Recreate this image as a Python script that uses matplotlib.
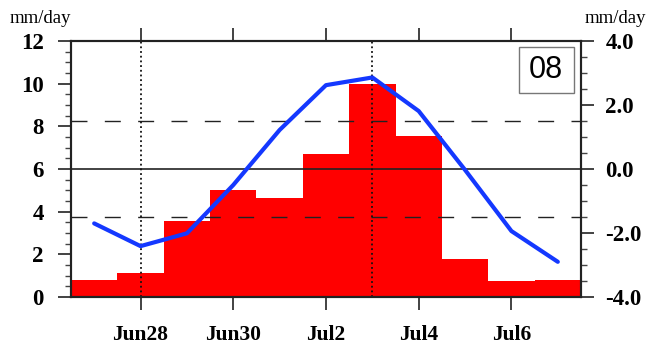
import matplotlib
matplotlib.use('Agg')
import matplotlib.pyplot as plt
from matplotlib.patches import Rectangle
from matplotlib.ticker import MultipleLocator, FormatStrFormatter

# daily series, Jun27 .. Jul7
days = ['Jun27', 'Jun28', 'Jun29', 'Jun30', 'Jul1', 'Jul2',
        'Jul3', 'Jul4', 'Jul5', 'Jul6', 'Jul7']
rain = [0.8, 1.14, 3.58, 5.0, 4.66, 6.72, 10.0, 7.55, 1.8, 0.75, 0.81]
anom = [-1.70, -2.41, -2.01, -0.50, 1.22, 2.62, 2.86, 1.81, -0.03, -1.94, -2.90]
tick_days = ['Jun28', 'Jun30', 'Jul2', 'Jul4', 'Jul6']
mark_days = ['Jun28', 'Jul3']
thresh = 1.5
panel = '08'

x = list(range(len(days)))
serif = 'Liberation Serif'

fig = plt.figure(figsize=(6.49, 3.45), dpi=100)
ax = fig.add_axes([0.1094, 0.1391, 0.7858, 0.7421])
ax2 = ax.twinx()

ax.bar(x, rain, width=1.0, color='#ff0000', linewidth=0, zorder=1)

# reference lines on the anomaly scale
ax2.axhline(0, color='#222222', lw=1.2, zorder=2)
for v in (thresh, -thresh):
    ax2.axhline(v, color='#222222', lw=1.0, dashes=(11.5, 12.5), zorder=2)
for d in mark_days:
    ax2.axvline(days.index(d), color='#111111', lw=1.3,
                linestyle=(0, (1, 1.6)), zorder=2)

ax2.plot(x, anom, color='#1438ff', lw=3.0, zorder=3, solid_capstyle='round')

ax.set_xticks([days.index(d) for d in tick_days])
ax.set_xticklabels(tick_days)
ax.yaxis.set_major_locator(MultipleLocator(2))
ax.yaxis.set_minor_locator(MultipleLocator(0.5))
ax2.yaxis.set_major_locator(MultipleLocator(2))
ax2.yaxis.set_minor_locator(MultipleLocator(0.5))
ax2.yaxis.set_major_formatter(FormatStrFormatter('%.1f'))

ax.set_xlim(-0.5, len(days) - 0.5)
ax.set_ylim(0, 12)
ax2.set_ylim(-4, 4)

ax.tick_params(axis='x', which='major', direction='out', length=9.5, width=1.2,
               top=True, pad=11, color='#222222', labelsize=15.5)
ax.tick_params(axis='y', which='major', direction='out', length=9.5, width=1.2,
               pad=10, color='#222222', labelsize=16.5)
ax.tick_params(axis='y', which='minor', direction='out', length=4.5, width=1.0,
               color='#444444')
ax2.tick_params(axis='y', which='major', direction='out', length=9.5, width=1.2,
                pad=8, color='#222222', labelsize=16.5)
ax2.tick_params(axis='y', which='minor', direction='out', length=4.5, width=1.0,
                color='#444444')
ax2.tick_params(axis='x', top=False, bottom=False)

for lab in ax.get_xticklabels() + ax.get_yticklabels() + ax2.get_yticklabels():
    lab.set_fontfamily(serif)
    lab.set_fontweight('bold')

for a in (ax, ax2):
    for sp in a.spines.values():
        sp.set_color('#222222')
        sp.set_linewidth(1.5)

fig.text(0.015, 0.945, 'mm/day', family=serif, fontsize=13.5, ha='left', va='center')
fig.text(0.901, 0.945, 'mm/day', family=serif, fontsize=13.5, ha='left', va='center')

ax2.add_patch(Rectangle((0.878, 0.797), 0.108, 0.180, transform=ax2.transAxes,
                        facecolor='white', edgecolor='#777777', lw=1.0, zorder=4))
ax2.text(0.932, 0.887, panel, transform=ax2.transAxes, ha='center', va='center',
         family='Liberation Sans', fontsize=22, zorder=5)

fig.savefig('out.png', dpi=100)
